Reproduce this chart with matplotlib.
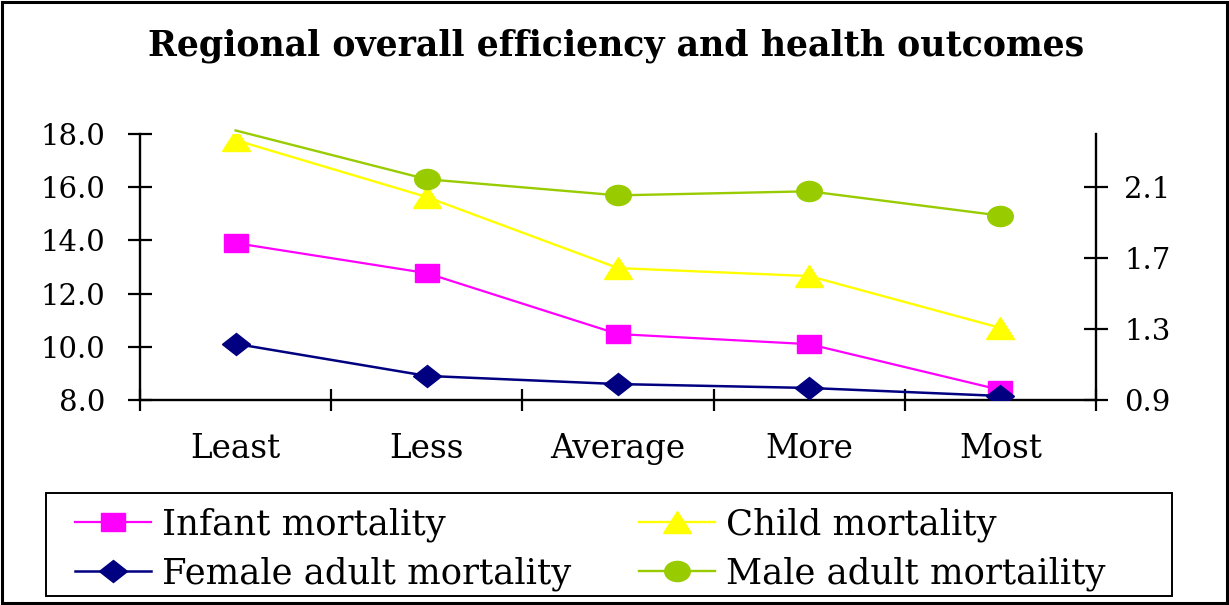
import matplotlib.pyplot as plt
from matplotlib.markers import MarkerStyle
from matplotlib.patches import Rectangle
from matplotlib.transforms import Affine2D

plt.rcParams['font.family'] = ['DejaVu Serif']

categories = ['Least', 'Less', 'Average', 'More', 'Most']

# left axis
infant = [13.9, 12.77, 10.48, 10.1, 8.38]
child = [17.77, 15.63, 12.96, 12.66, 10.71]
# right axis
female_adult = [1.217, 1.036, 0.99, 0.968, 0.923]
male_adult = [2.42, 2.145, 2.054, 2.077, 1.94]

left_ticks = [8.0, 10.0, 12.0, 14.0, 16.0, 18.0]
right_ticks = [0.9, 1.3, 1.7, 2.1]
right_max = 2.4


def wide(m, sx=1.27):
    return MarkerStyle(m, transform=Affine2D().scale(sx, 1.0))


fig = plt.figure(figsize=(12.29, 6.05), dpi=100)
ax = fig.add_axes([0.1139, 0.3388, 0.7779, 0.4397])
ax2 = ax.twinx()

x = list(range(len(categories)))

l1, = ax.plot(x, infant, color='#FF00FF', lw=1.6,
              marker=wide('s'), ms=13.5, mec='#FF00FF', label='Infant mortality')
l2, = ax.plot(x, child, color='#FFFF00', lw=1.7,
              marker=wide('^'), ms=15.5, mec='#FFFF00', label='Child mortality')
l3, = ax2.plot(x, female_adult, color='#000080', lw=1.8,
               marker=wide('D'), ms=11, mec='#000080', label='Female adult mortality')
# points above the axis maximum get no marker
shown = [i for i, v in enumerate(male_adult) if v <= right_max]
l4, = ax2.plot(x, male_adult, color='#99CC00', lw=1.7, clip_on=False,
               marker=wide('o'), ms=14.5, mec='#99CC00', markevery=shown,
               label='Male adult mortaility')

ax.set_xlim(-0.5, 4.5)
ax.set_ylim(8.0, 18.0)
ax2.set_ylim(0.9, right_max)

ax.set_yticks(left_ticks)
ax.set_yticklabels([f'{t:.1f}' for t in left_ticks])
ax2.set_yticks(right_ticks)
ax2.set_yticklabels([f'{t:.1f}' for t in right_ticks])

# boundary ticks between categories, labels centred under each one
ax.set_xticks([i - 0.5 for i in range(len(categories) + 1)])
ax.set_xticklabels([])
ax.set_xticks(x, minor=True)
ax.set_xticklabels(categories, minor=True, fontsize=23.5)
ax.tick_params(axis='x', which='major', direction='inout', length=16, width=1.6)
ax.tick_params(axis='x', which='minor', length=0, pad=24)
ax.tick_params(axis='y', direction='inout', length=17, width=1.6,
               labelsize=21, pad=16.5)
ax2.tick_params(axis='y', direction='inout', length=17, width=1.6,
                labelsize=21, pad=12)

for s in ['top', 'right']:
    ax.spines[s].set_visible(False)
for s in ['top', 'left', 'bottom']:
    ax2.spines[s].set_visible(False)
ax.spines['left'].set_linewidth(1.7)
ax.spines['bottom'].set_linewidth(1.7)
ax2.spines['right'].set_linewidth(1.7)

fig.text(0.5015, 0.924, 'Regional overall efficiency and health outcomes',
         ha='center', va='center', fontsize=25, fontweight='bold')

# row-wise order: infant, child / female, male
fig.legend(handles=[l1, l3, l2, l4], ncol=2, loc='upper left',
           bbox_to_anchor=(0.061, 0.161), frameon=False, fontsize=25.5,
           handlelength=2.15, handletextpad=0.31, columnspacing=1.9,
           labelspacing=0.40, borderpad=0, borderaxespad=0)

fig.patches.append(Rectangle((0.0374, 0.0149), 0.9163, 0.170,
                             transform=fig.transFigure, fill=False,
                             ec='black', lw=1.4))
fig.patches.append(Rectangle((0.002, 0.003), 0.996, 0.993,
                             transform=fig.transFigure, fill=False,
                             ec='black', lw=2.2))

fig.savefig('out.png', dpi=100)
